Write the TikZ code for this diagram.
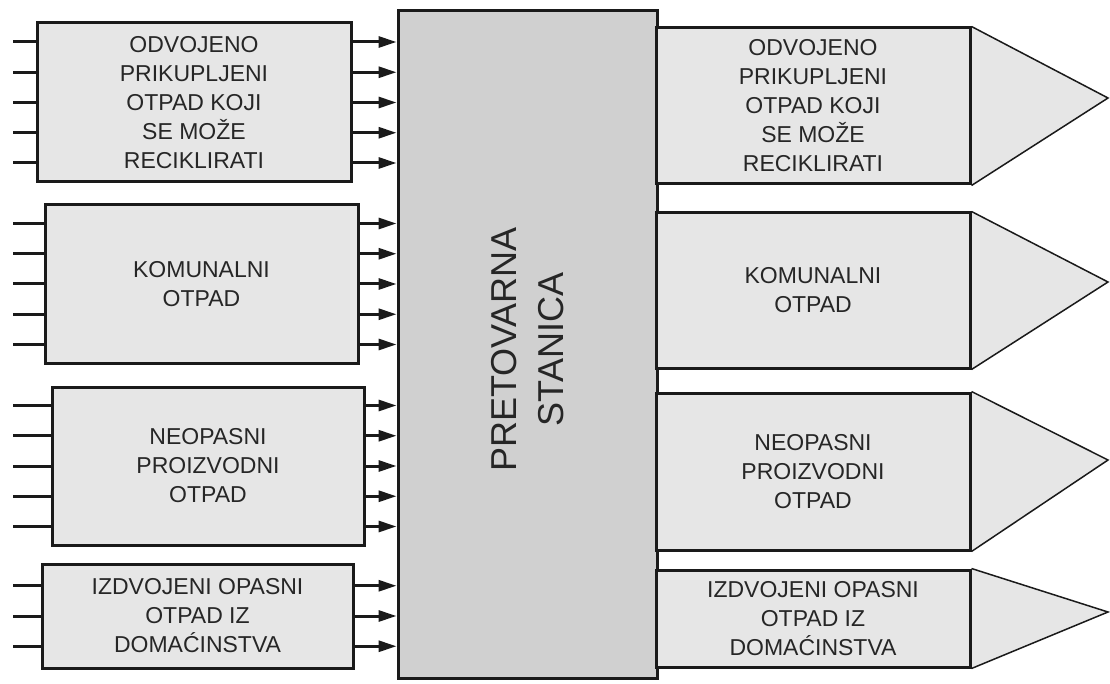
\documentclass[tikz,border=0pt]{standalone}
\usepackage{fontspec}
\setmainfont{Liberation Sans}
\usepackage{tikz}
\usetikzlibrary{arrows.meta,backgrounds}
\definecolor{wsgrey}{HTML}{E6E6E6}
\definecolor{wsdark}{HTML}{D0D0D0}
\definecolor{wsline}{HTML}{1A1A1A}
\definecolor{wstext}{HTML}{262626}

\begin{document}
\begin{tikzpicture}[x=1pt, y=-1pt,
  src/.style={draw=wsline, line width=3pt, fill=wsgrey, align=center, inner sep=0pt,
    text=wstext, font=\fontsize{23}{29}\selectfont},
  hub/.style={src, fill=wsdark, minimum width=259pt, minimum height=667pt},
  tip/.style={draw=wsline, line width=1.5pt, fill=wsgrey, line join=miter},
  ln/.style={draw=wsline, line width=3pt},
  ar/.style={ln, -{Triangle[length=18pt,width=11pt]}}]
  \useasboundingbox (0,0) rectangle (1110,684);
  % sources
  \node[src, minimum width=314pt, minimum height=159pt] (l1) at (194,102.5)
    {ODVOJENO\\PRIKUPLJENI\\OTPAD KOJI\\SE MOŽE\\RECIKLIRATI};
  \node[src, minimum width=313pt, minimum height=158pt] (l2) at (201.5,284)
    {KOMUNALNI\\OTPAD};
  \node[src, minimum width=312pt, minimum height=158pt] (l3) at (208,466)
    {NEOPASNI\\PROIZVODNI\\OTPAD};
  \node[src, minimum width=311pt, minimum height=104pt] (l4) at (197.5,616)
    {IZDVOJENI OPASNI\\OTPAD IZ\\DOMAĆINSTVA};
  % transfer station
  \node[hub] (st) at (527.5,344.5) {};
  \node[rotate=90, align=center, text=wstext, font=\fontsize{36}{47}\selectfont]
    (stl) at ([yshift=-5pt]st.center) {PRETOVARNA\\STANICA};
  % outputs
  \node[src, minimum width=314pt, minimum height=156pt] (r1) at (813,106)
    {ODVOJENO\\PRIKUPLJENI\\OTPAD KOJI\\SE MOŽE\\RECIKLIRATI};
  \node[src, minimum width=314pt, minimum height=155pt] (r2) at (813,290.5)
    {KOMUNALNI\\OTPAD};
  \node[src, minimum width=314pt, minimum height=157pt] (r3) at (813,471.5)
    {NEOPASNI\\PROIZVODNI\\OTPAD};
  \node[src, minimum width=314pt, minimum height=97pt] (r4) at (813,618.5)
    {IZDVOJENI OPASNI\\OTPAD IZ\\DOMAĆINSTVA};
  \coordinate (t1) at (1108,98);
  \coordinate (t2) at (1108,282);
  \coordinate (t3) at (1108,460);
  \coordinate (t4) at (1108,612);
  \begin{scope}[on background layer]
    \foreach \r/\t in {r1/t1,r2/t2,r3/t3,r4/t4}
      \path[tip] (\r.north east) -- (\t) -- (\r.south east);
  \end{scope}
  % inputs and feeds
  \coordinate (in) at (13,0);
  \foreach \b/\m in {l1/2,l2/2,l3/2,l4/1}
    \foreach \k in {-\m,...,\m} {
      \draw[ln] ([yshift=\k*30.25pt]\b.west) -- ([yshift=\k*30.25pt]\b.west -| in);
      \draw[ar] ([yshift=\k*30.25pt]\b.east) -- ([yshift=\k*30.25pt]\b.east -| st.west);
    }
\end{tikzpicture}
\end{document}
